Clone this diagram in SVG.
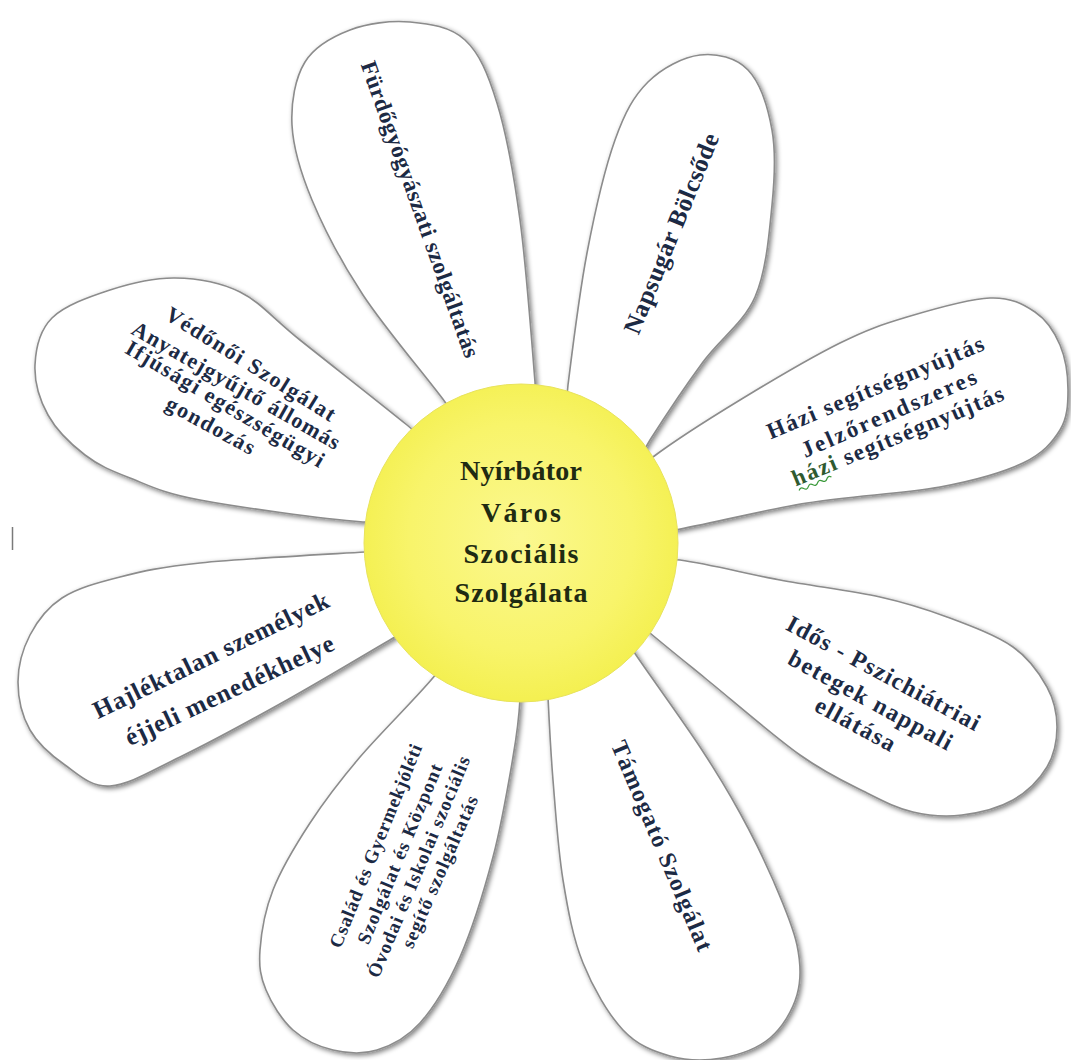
<svg xmlns="http://www.w3.org/2000/svg" width="1071" height="1060" viewBox="0 0 1071 1060">
<defs>
<filter id="sh" x="-15%" y="-15%" width="130%" height="130%">
<feGaussianBlur in="SourceAlpha" stdDeviation="2.8"/>
<feOffset dx="1.5" dy="2" result="b"/>
<feComponentTransfer in="b" result="s"><feFuncA type="linear" slope="0.5"/></feComponentTransfer>
<feMerge><feMergeNode in="s"/><feMergeNode in="SourceGraphic"/></feMerge>
</filter>
<radialGradient id="sun" cx="50%" cy="48%" r="55%">
<stop offset="0" stop-color="#fbf890"/>
<stop offset="0.65" stop-color="#f8f46a"/>
<stop offset="1" stop-color="#f3ef4c"/>
</radialGradient>
</defs>
<style>
.petal{fill:#ffffff;stroke:#8c8c8c;stroke-width:1.6;filter:url(#sh)}
.pt{font-family:"Liberation Serif","Times New Roman",serif;font-weight:bold;fill:#1c2a44;text-anchor:middle}
.ct{font-family:"Liberation Serif","Times New Roman",serif;font-weight:bold;fill:#1f2b12;text-anchor:middle;font-size:28px}
</style>
<rect width="1071" height="1060" fill="#ffffff"/>
<g id="connectors"/>

<g id="petal-furdo">
<path class="petal" d="M 500,520 L 470,440 L 445,402 C 427.2,377.8 385.2,328.7 363,295 S 323.8,228.3 312,200 S 293.2,148 292,125 S 295.3,77.8 305,62 S 332.5,36.7 350,30 S 390.8,20.3 410,22 S 450.5,26.5 465,40 S 487.8,73 497,103 S 513.7,173.5 520,220 S 532,345.3 535,382 L 538,440 L 520,520 Z"/>
<text class="pt" font-size="23" transform="translate(419.5,209.5) rotate(70.4)" x="0" y="7" textLength="313" lengthAdjust="spacing">Fürdőgyógyászati szolgáltatás</text>
</g>

<g id="petal-napsugar">
<path class="petal" d="M 580,540 L 560,470 L 568,385 C 572.5,348.8 579.2,293.8 587,253 S 604.8,168.5 615,140 S 633.8,96.2 648,82 S 683.3,57 700,55 S 736,57.5 748,70 S 768,107.5 772,130 S 774.8,177.2 772,205 S 766.5,270.8 755,297 S 720.5,338.2 703,362 S 664.7,417 650,440 L 615,500 L 580,540 Z"/>
<text class="pt" font-size="25" transform="translate(672.5,234) rotate(-67.8)" x="0" y="7" textLength="214" lengthAdjust="spacing">Napsugár Bölcsőde</text>
</g>

<g id="petal-hazi">
<path class="petal" d="M 560,520 L 600,505 L 653,457 C 676.3,439.5 708.8,419 740,400 S 812.2,356.8 840,343 S 882,324.5 907,317 S 968.7,298.8 990,298 S 1023.3,304.2 1035,312 S 1054.5,332 1060,345 S 1068,375.8 1068,390 S 1067.5,417.8 1060,430 S 1043,453.5 1023,463 S 976,480.3 940,487 S 851.2,495.8 807,503 S 709.5,523.8 675,530 L 600,540 L 560,530 Z"/>
<text class="pt" font-size="23" transform="translate(875.5,388) rotate(-22.7)" x="0" y="7" textLength="233" lengthAdjust="spacing">Házi segítségnyújtás</text>
<text class="pt" font-size="23" transform="translate(889,414) rotate(-23.5)" x="0" y="7" textLength="189" lengthAdjust="spacing">Jelzőrendszeres</text>
<g transform="translate(898,436.5) rotate(-22.5)">
<text class="pt" font-size="23" x="0" y="7" textLength="227" lengthAdjust="spacing"><tspan fill="#2f5a2f">házi</tspan> segítségnyújtás</text>
<path d="M -112,12 q 2.5,-3 5,0 t 5,0 t 5,0 t 5,0 t 5,0 t 5,0 t 5,0" fill="none" stroke="#3c9a3c" stroke-width="1.2"/>
</g>
</g>

<g id="petal-ido">
<path class="petal" d="M 560,570 L 600,555 L 680,560 C 710,564.2 746.7,573.8 780,580 S 852.2,590.8 880,597 S 924.8,608.7 947,617 S 996.3,635.3 1013,647 S 1039.7,673.7 1047,687 S 1057,713.7 1057,727 S 1054.3,754.8 1047,767 S 1027.2,792 1013,800 S 978.7,813 962,815 S 928.8,815.7 913,812 S 885.8,802.5 867,793 S 827,774.2 800,755 S 730,698.3 705,678 S 667.5,647.7 650,633 L 600,590 L 560,580 Z"/>
<text class="pt" font-size="24" transform="translate(883,674) rotate(28.3)" x="0" y="7" textLength="216" lengthAdjust="spacing">Idős - Pszichiátriai</text>
<text class="pt" font-size="24" transform="translate(870,701) rotate(28.6)" x="0" y="7" textLength="183" lengthAdjust="spacing">betegek nappali</text>
<text class="pt" font-size="24" transform="translate(855,725) rotate(28.5)" x="0" y="7" textLength="88" lengthAdjust="spacing">ellátása</text>
</g>

<g id="petal-tamogato">
<path class="petal" d="M 560,580 L 545,620 L 548,697 C 549.3,723.7 550.5,749.5 553,780 S 558,849.5 563,880 S 573,938 583,963 S 608.5,1014.5 623,1030 S 653.5,1051.3 670,1056 S 705.3,1061 722,1058 S 757.5,1048.5 770,1038 S 792.5,1010.5 797,995 S 801,964.2 797,945 S 782.5,902 773,880 S 752.2,835.2 740,813 S 717.3,773.3 700,747 S 652.7,679.5 636,655 L 600,600 L 570,580 Z"/>
<text class="pt" font-size="24" transform="translate(661,846) rotate(67)" x="0" y="7" textLength="226" lengthAdjust="spacing">Támogató Szolgálat</text>
</g>

<g id="petal-csalad">
<path class="petal" d="M 500,600 L 520,620 L 520,699 C 518.8,721.8 517.5,730.7 513,757 S 501.8,823.7 493,857 S 472.2,929.3 460,957 S 433.8,1007.5 420,1023 S 391.5,1045.5 377,1050 S 347,1053.3 333,1050 S 304.2,1040 293,1030 S 271.5,1003.3 266,990 S 258.8,966.7 260,950 S 264.7,911.2 273,890 S 295.5,845.2 310,823 S 338.8,782 360,757 S 418.7,695.8 437,673 L 470,620 L 490,600 Z"/>
<text class="pt" font-size="19" transform="translate(376,846) rotate(-67.9)" x="0" y="6" textLength="218" lengthAdjust="spacing">Család és Gyermekjóléti</text>
<text class="pt" font-size="19" transform="translate(400,854) rotate(-67.4)" x="0" y="6" textLength="193" lengthAdjust="spacing">Szolgálat és Központ</text>
<text class="pt" font-size="19" transform="translate(419,867) rotate(-67.3)" x="0" y="6" textLength="238" lengthAdjust="spacing">Óvodai és Iskolai szociális</text>
<text class="pt" font-size="19" transform="translate(440,872) rotate(-66.3)" x="0" y="6" textLength="164" lengthAdjust="spacing">segítő szolgáltatás</text>
</g>

<g id="petal-hajlektalan">
<path class="petal" d="M 470,570 L 450,548 L 365,552 C 323.3,554.5 240.8,558.8 200,563 S 143,571.2 120,577 S 77,588.3 62,598 S 37.3,621 30,635 S 18,666.2 18,682 S 22.2,716.2 30,730 S 51.7,755.7 65,765 S 90.8,787.3 110,786 S 150.5,771.3 180,757 S 251.2,720 287,700 S 366.2,653.7 395,637 L 460,600 L 475,580 Z"/>
<text class="pt" font-size="25" transform="translate(211.5,656.5) rotate(-25.9)" x="0" y="7" textLength="259" lengthAdjust="spacing">Hajléktalan személyek</text>
<text class="pt" font-size="25" transform="translate(230,691.5) rotate(-25.2)" x="0" y="7" textLength="228" lengthAdjust="spacing">éjjeli menedékhelye</text>
</g>

<g id="petal-vedonoi">
<path class="petal" d="M 470,540 L 450,520 L 363,522 C 321.3,518.7 238.8,507.3 200,500 S 149.2,485.5 130,478 S 98.7,465.5 85,455 S 56.3,430 48,415 S 34.3,381.2 35,365 S 39.5,330.5 52,318 S 89.5,296.7 110,290 S 153.3,277.7 175,278 S 219.2,281.7 240,292 S 272.2,317.8 300,340 S 380.3,403.3 407,425 L 460,470 L 480,520 Z"/>
<text class="pt" font-size="22" transform="translate(250,365) rotate(32)" x="0" y="6" textLength="196" lengthAdjust="spacing">Védőnői Szolgálat</text>
<text class="pt" font-size="22" transform="translate(235.5,386.5) rotate(29.7)" x="0" y="6" textLength="236" lengthAdjust="spacing">Anyatejgyűjtő állomás</text>
<text class="pt" font-size="22" transform="translate(224.5,405) rotate(30.7)" x="0" y="6" textLength="227" lengthAdjust="spacing">Ifjúsági egészségügyi</text>
<text class="pt" font-size="22" transform="translate(210,426.5) rotate(28.6)" x="0" y="6" textLength="98" lengthAdjust="spacing">gondozás</text>
</g>

<g id="center">
<ellipse cx="521" cy="543" rx="157" ry="159" fill="url(#sun)" stroke="#e8e35c" stroke-width="1"/>
<text class="ct" x="521" y="480" textLength="122" lengthAdjust="spacing">Nyírbátor</text>
<text class="ct" x="521" y="522" textLength="80" lengthAdjust="spacing">Város</text>
<text class="ct" x="521" y="563" textLength="115" lengthAdjust="spacing">Szociális</text>
<text class="ct" x="521" y="602" textLength="133" lengthAdjust="spacing">Szolgálata</text>
</g>

<line x1="12.5" y1="527" x2="12.5" y2="550" stroke="#7a7a7a" stroke-width="1.5"/>
</svg>
